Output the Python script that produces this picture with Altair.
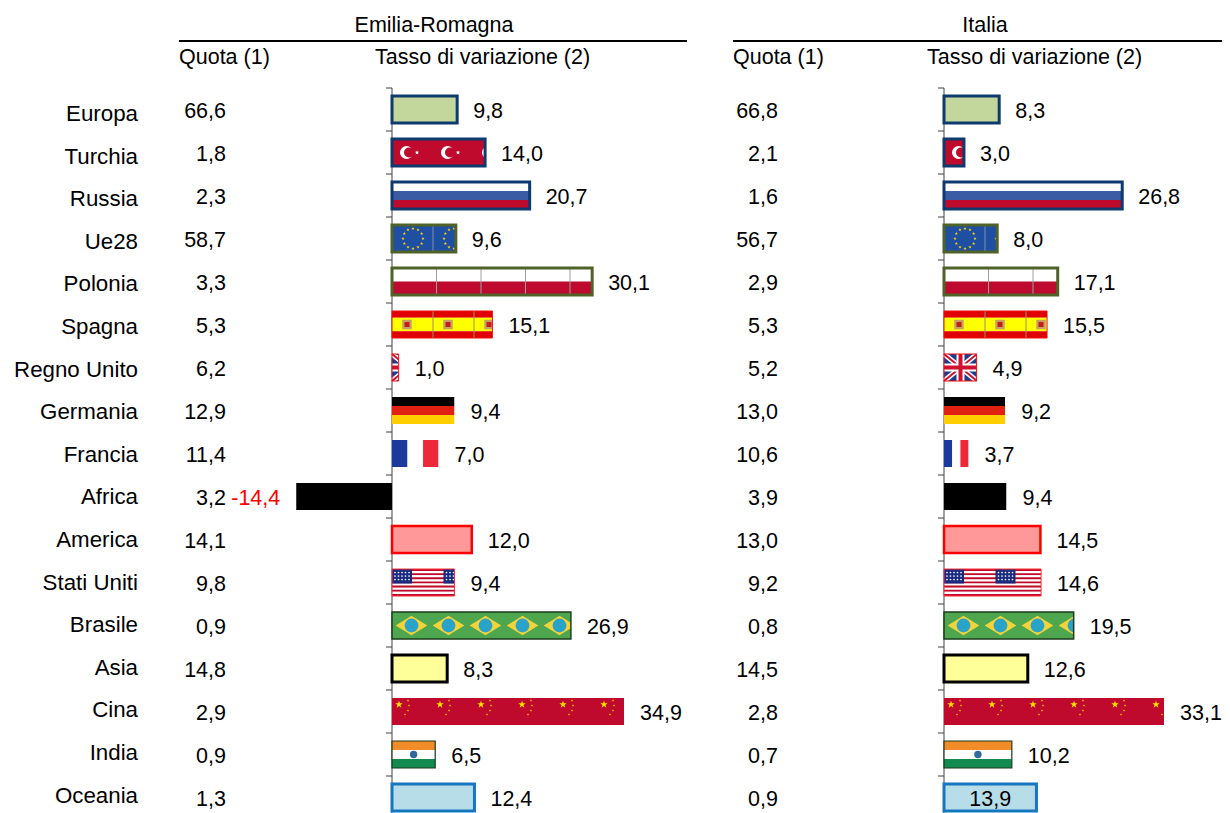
import math
import altair as alt
import pandas as pd

categories = ["Europa", "Turchia", "Russia", "Ue28", "Polonia", "Spagna", "Regno Unito", "Germania", "Francia",
              "Africa", "America", "Stati Uniti", "Brasile", "Asia", "Cina", "India", "Oceania"]
quota_er = [66.6, 1.8, 2.3, 58.7, 3.3, 5.3, 6.2, 12.9, 11.4, 3.2, 14.1, 9.8, 0.9, 14.8, 2.9, 0.9, 1.3]
tasso_er = [9.8, 14.0, 20.7, 9.6, 30.1, 15.1, 1.0, 9.4, 7.0, -14.4, 12.0, 9.4, 26.9, 8.3, 34.9, 6.5, 12.4]
quota_it = [66.8, 2.1, 1.6, 56.7, 2.9, 5.3, 5.2, 13.0, 10.6, 3.9, 13.0, 9.2, 0.8, 14.5, 2.8, 0.7, 0.9]
tasso_it = [8.3, 3.0, 26.8, 8.0, 17.1, 15.5, 4.9, 9.2, 3.7, 9.4, 14.5, 14.6, 19.5, 12.6, 33.1, 10.2, 13.9]

FONT = "Liberation Sans"
FS = 21.5
FS_CAT = 22.3
PX = 6.65
ROW = 43.0
W = 1214
H = 805
TOP = 101.5
ORIGIN = 384
Y_TOP = TOP / ROW
HALF = 13.5 / ROW
RED = "#c00a2d"

outlines = {
    "Europa": ("#0f3a6e", 3), "Turchia": ("#0f3a6e", 3), "Russia": ("#0f3a6e", 3),
    "Ue28": ("#4f6228", 3), "Polonia": ("#4f6228", 3), "Spagna": ("#f01010", 1),
    "Regno Unito": ("#f01010", 1), "America": ("#ff0000", 2.5), "Stati Uniti": ("#ff3030", 1),
    "Brasile": ("#1d3d1d", 1.5), "Asia": ("#000000", 3), "India": ("#1a3a1a", 1.2), "Oceania": ("#1577c0", 3),
}

STAR = "M" + "L".join(
    f"{(1 if i % 2 == 0 else 0.4) * math.sin(i * math.pi / 5):.3f},{-(1 if i % 2 == 0 else 0.4) * math.cos(i * math.pi / 5):.3f}"
    for i in range(10)) + "Z"
DIAMOND = "M-1,0L0,-0.62L1,0L0,0.62Z"

x_scale = alt.Scale(domain=[-ORIGIN / PX, (W - ORIGIN) / PX], nice=False, zero=False)
y_scale = alt.Scale(domain=[-Y_TOP, (H - TOP) / ROW], nice=False, zero=False, reverse=True)
X = alt.X("x0:Q", scale=x_scale, axis=None)
Y = alt.Y("y0:Q", scale=y_scale, axis=None)
ident = lambda f: alt.Color(f, scale=None, legend=None)
fmt = lambda q: f"{q:.1f}".replace(".", ",")


def flag(name, r, v):
    """Stripes, lines and motifs of one bar, in bar-value and row units."""
    rects, rules, pts = [], [], []
    t = r - HALF
    span = 2 * HALF

    def rect(a, b, f0, f1, c):
        rects.append(dict(x0=a, x1=min(b, v) if v > 0 else b, y0=t + span * f0, y1=t + span * f1, color=c))

    def hstripes(cols, weights=None):
        w = weights or [1] * len(cols)
        s, acc = sum(w), 0
        for c, k in zip(cols, w):
            rect(0, v, acc / s, (acc + k) / s, c)
            acc += k

    def vstripes(cols):
        for i, c in enumerate(cols):
            rects.append(dict(x0=v * i / len(cols), x1=v * (i + 1) / len(cols), y0=t, y1=t + span, color=c))

    def pt(dx, dy, size, color, shape="circle"):
        pts.append(dict(x0=dx / PX, y0=r + dy / ROW, size=size, color=color, shape=shape))

    def seams(tile, color):
        k = tile / PX
        while k < v:
            rules.append(dict(x0=k, x1=k, y0=t, y1=t + span, color=color, w=1))
            k += tile / PX

    def tiles(tile):
        n = 0
        while n * tile < v * PX:
            yield n * tile
            n += 1

    plain = {"Europa": "#c3d69b", "Africa": "#000000", "America": "#ff9999", "Asia": "#ffff99", "Oceania": "#b7dde8"}
    if name in plain:
        rect(min(v, 0), max(v, 0), 0, 1, plain[name])
    elif name == "Turchia":
        rect(0, v, 0, 1, RED)
        for o in tiles(41):
            pt(o + 14.5, 0, 170, "#ffffff")
            pt(o + 17, 0, 100, RED)
            pt(o + 25, 0, 22, "#ffffff", STAR)
    elif name == "Russia":
        hstripes(["#ffffff", "#3b5ba5", RED])
    elif name == "Ue28":
        rect(0, v, 0, 1, "#1f4fa3")
        seams(41, "#8090b0")
        for o in tiles(41):
            for a in range(12):
                pt(o + 21 + 10 * math.sin(a * math.pi / 6), 10 * math.cos(a * math.pi / 6), 12, "#ffd200", STAR)
    elif name == "Polonia":
        hstripes(["#ffffff", "#bf0a30"])
        seams(44.5, "#a0a0a0")
    elif name == "Spagna":
        hstripes(["#e00000", "#ffff00", "#e00000"], [1, 2, 1])
        seams(41, "#a09060")
        for o in tiles(41):
            pt(o + 15, 0, 90, "#c8a060", "square")
            pt(o + 15, 0, 25, "#c02020", "square")
    elif name == "Regno Unito":
        rect(0, v, 0, 1, "#1f3a8a")
        w = 33 / PX
        for (a, b, c, lw) in [(t, t + span, "#ffffff", 5), (t + span, t, "#ffffff", 5),
                              (t, t + span, "#d01030", 2), (t + span, t, "#d01030", 2)]:
            rules.append(dict(x0=0, x1=w, y0=a, y1=b, color=c, w=lw))
        for (c, lw) in [("#ffffff", 8), ("#d01030", 4)]:
            rules.append(dict(x0=0, x1=w, y0=r, y1=r, color=c, w=lw))
            rules.append(dict(x0=w / 2, x1=w / 2, y0=t, y1=t + span, color=c, w=lw))
    elif name == "Germania":
        hstripes(["#000000", "#e02010", "#ffce00"])
    elif name == "Francia":
        vstripes(["#1a3a9c", "#ffffff", "#ed2939"])
    elif name == "Stati Uniti":
        hstripes([RED if i % 2 == 0 else "#ffffff" for i in range(13)])
        for o in tiles(51.5):
            rect(o / PX, (o + 20) / PX, 0, 7 / 13, "#1a2a80")
            for i in range(5):
                for j in range(3):
                    pt(o + 3 + 3.5 * i, -10 + 3.5 * j, 3, "#ffffff")
    elif name == "Brasile":
        rect(0, v, 0, 1, "#4ea64e")
        for o in tiles(37):
            pt(o + 19.5, 0, 1000, "#f2d43a", DIAMOND)
            pt(o + 19.5, 0, 190, "#2aa3c8")
    elif name == "Cina":
        rect(0, v, 0, 1, RED)
        for o in tiles(41):
            pt(o + 7, -7, 60, "#ffe000", STAR)
            for (dx, dy) in [(16, -11), (17, -6), (16, -1), (13, 3)]:
                pt(o + dx, dy, 7, "#ffc000", STAR)
    elif name == "India":
        hstripes(["#f28c28", "#ffffff", "#138a50"])
        pt(v * PX / 2, 0, 55, "#2f6a9a")
    return rects, rules, pts


def panel(quota, tasso, shift_px, hdr_cfg):
    off = shift_px / PX
    rects, rules, pts, masks, boxes, ticks = [], [], [], [], [], []
    for r, (n, v) in enumerate(zip(categories, tasso)):
        a, b, c = flag(n, r, v)
        rects += a
        rules += b
        pts += c
        if v > 0:
            masks.append(dict(x0=v, x1=v + 9, y0=r - HALF * 1.15, y1=r + HALF * 1.15))
        if n in outlines:
            boxes.append(dict(x0=min(v, 0), x1=max(v, 0), y0=r - HALF, y1=r + HALF, color=outlines[n][0], w=outlines[n][1]))
        ticks.append(dict(x0=-6 / PX, x1=0, y0=r - 0.5))
    for table in (rects, rules, pts, masks, boxes, ticks):
        for d in table:
            d["x0"] += off
            if "x1" in d:
                d["x1"] += off

    qt = pd.DataFrame(dict(y0=list(range(len(categories))), t=[fmt(q) for q in quota]))
    pos = pd.DataFrame([dict(x0=v + off, y0=r, t=fmt(v)) for r, v in enumerate(tasso) if v > 0 and v != 13.9])
    neg = [dict(x0=v + off, y0=r, t=fmt(v)) for r, v in enumerate(tasso) if v < 0]
    inside = pd.DataFrame([dict(x0=v / 2 + off, y0=r, t=fmt(v)) for r, v in enumerate(tasso) if v == 13.9] or [dict(x0=off, y0=-5, t="")])

    text = dict(font=FONT, fontSize=FS, baseline="middle", color="#000000", dy=2)
    layers = [
        alt.Chart(pd.DataFrame([dict(x0=off, y0=-0.5, y1=(H - TOP) / ROW)])).mark_rule(color="#404040", strokeWidth=1).encode(x=X, y=Y, y2="y1:Q"),
        alt.Chart(pd.DataFrame(ticks)).mark_rule(color="#404040", strokeWidth=1).encode(x=X, x2="x1:Q", y=Y),
        alt.Chart(pd.DataFrame(rects)).mark_rect().encode(x=X, x2="x1:Q", y=Y, y2="y1:Q", color=ident("color:N")),
        alt.Chart(pd.DataFrame(rules)).mark_rule().encode(x=X, x2="x1:Q", y=Y, y2="y1:Q", color=ident("color:N"),
                                                          strokeWidth=alt.StrokeWidth("w:Q", scale=None, legend=None)),
        alt.Chart(pd.DataFrame(pts)).mark_point(filled=True, opacity=1).encode(
            x=X, y=Y, color=ident("color:N"), size=alt.Size("size:Q", scale=None, legend=None),
            shape=alt.Shape("shape:N", scale=None, legend=None)),
        alt.Chart(pd.DataFrame(masks)).mark_rect(color="#ffffff").encode(x=X, x2="x1:Q", y=Y, y2="y1:Q"),
        alt.Chart(pd.DataFrame(boxes)).mark_rect(fillOpacity=0).encode(x=X, x2="x1:Q", y=Y, y2="y1:Q", stroke=alt.Stroke("color:N", scale=None, legend=None),
                                                                        strokeWidth=alt.StrokeWidth("w:Q", scale=None, legend=None)),
        alt.Chart(qt).mark_text(align="right", **text).encode(x=alt.value(ORIGIN + shift_px - 166), y=Y, text="t:N"),
        alt.Chart(pos).mark_text(align="left", dx=16, **text).encode(x=X, y=Y, text="t:N"),
        alt.Chart(inside).mark_text(align="center", **text).encode(x=X, y=Y, text="t:N"),
    ]
    if neg:
        layers.append(alt.Chart(pd.DataFrame(neg)).mark_text(align="right", dx=-16, **{**text, "color": "#ff0000"}).encode(x=X, y=Y, text="t:N"))
    hdr = pd.DataFrame([dict(a=1)])
    rule_x, rule_x2, title, title_x = hdr_cfg
    layers += [
        alt.Chart(hdr).mark_rule(color="#000000", strokeWidth=2).encode(x=alt.value(rule_x), x2=alt.value(rule_x2), y=alt.value(33)),
        alt.Chart(hdr).mark_text(text=title, align="center", **text).encode(x=alt.value(title_x), y=alt.value(16)),
        alt.Chart(hdr).mark_text(text="Quota (1)", align="left", **text).encode(x=alt.value(rule_x), y=alt.value(48)),
        alt.Chart(hdr).mark_text(text="Tasso di variazione (2)", align="left", **text).encode(x=alt.value(ORIGIN + shift_px - 17), y=alt.value(48)),
    ]
    return layers


cat_df = pd.DataFrame(dict(y0=[(4.5 + r * 42.6) / ROW for r in range(len(categories))], t=categories))
cats = alt.Chart(cat_df).mark_text(align="right", font=FONT, fontSize=FS_CAT, baseline="middle", color="#000000").encode(
    x=alt.value(130), y=Y, text="t:N")

chart = alt.layer(
    *panel(quota_er, tasso_er, 0, (171, 679, "Emilia-Romagna", 426)),
    *panel(quota_it, tasso_it, 552, (725, 1214, "Italia", 977)),
    cats,
).properties(width=W, height=H, padding=0, autosize=alt.AutoSizeParams(type="none"),
             background="#ffffff").configure_view(strokeWidth=0)
chart.save("out.html", embed_options={"renderer": "svg", "actions": False})
